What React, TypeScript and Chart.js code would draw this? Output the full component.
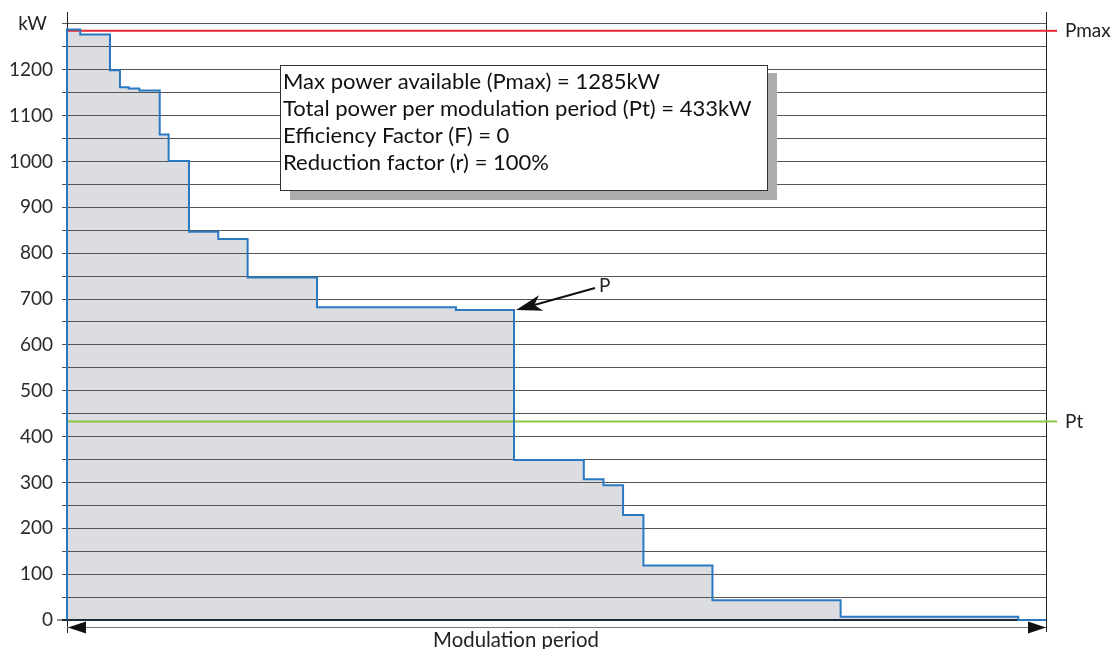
import React, { useEffect, useRef } from 'react';
import { Chart, registerables } from 'chart.js';

Chart.register(...registerables);

// ---- data ----
// start of each power step within the modulation period (period = 0..100)
const STEP_START = [0, 1.35, 4.39, 5.41, 6.3, 7.39, 9.47, 10.38, 12.46, 15.45, 18.45, 25.54, 39.73, 45.66, 52.79, 54.8, 56.8, 58.88, 65.93, 79.02, 97.16];
// power of each step, kW
const STEP_POWER = [1288, 1277, 1199, 1162, 1159, 1155, 1059, 1001, 847, 831, 747, 682, 676, 349, 307, 294, 229, 119, 43, 7, 0];
const PERIOD_END = 100;
const PMAX = 1285;
const PT = 433;
const Y_TICK_VALUES = [0, 50, 100, 150, 200, 250, 300, 350, 400, 450, 500, 550, 600, 650, 700, 750, 800, 850, 900, 950, 1000, 1050, 1100, 1150, 1200, 1250, 1300];
const Y_UNIT_TICK = 1300;
const Y_UNIT_LABEL = 'kW';
const INFO_LINES = [
  'Max power available (Pmax) = 1285kW',
  'Total power per modulation period (Pt) = 433kW',
  'Efficiency Factor (F) = 0',
  'Reduction factor (r) = 100%',
];
const P_STEP_INDEX = 12; // step whose end is marked "P"
const X_LABEL = 'Modulation period';

const FONT = "Lato, 'Open Sans', sans-serif";

function fitSize(ctx: CanvasRenderingContext2D, text: string, target: number): number {
  ctx.font = `100px ${FONT}`;
  const w = ctx.measureText(text).width;
  return (100 * target) / w;
}

function tickFontSize(): number {
  const c = document.createElement('canvas').getContext('2d');
  if (!c) return 20;
  return Math.round(fitSize(c, '1000', 44) * 10) / 10;
}

const overlay = {
  id: 'overlay',
  afterDraw(chart: any) {
    const { ctx, chartArea: a, scales } = chart;
    const xs = scales.x;
    const ys = scales.y;
    const tfs = fitSize(ctx, '1000', 44);
    ctx.save();
    const seg = (x1: number, y1: number, x2: number, y2: number) => {
      ctx.beginPath();
      ctx.moveTo(x1, y1);
      ctx.lineTo(x2, y2);
      ctx.stroke();
    };
    // frame extensions
    ctx.strokeStyle = '#222';
    ctx.lineWidth = 1;
    seg(a.left + 0.5, a.bottom, a.left + 0.5, a.bottom + 13);
    seg(a.right + 0.5, a.top, a.right + 0.5, a.bottom + 12);
    const y0 = ys.getPixelForValue(0);
    seg(a.left - 10, y0, a.left, y0);

    // unit label
    ctx.fillStyle = '#222';
    ctx.font = `${tfs}px ${FONT}`;
    ctx.textAlign = 'right';
    ctx.textBaseline = 'middle';
    ctx.fillText(Y_UNIT_LABEL, a.left - 20, ys.getPixelForValue(Y_UNIT_TICK));

    // reference line extensions + labels
    const refs: [number, string, string][] = [
      [PMAX, 'Pmax', '#e8262f'],
      [PT, 'Pt', '#8cc63e'],
    ];
    for (const [v, label, color] of refs) {
      const py = ys.getPixelForValue(v);
      ctx.strokeStyle = color;
      ctx.lineWidth = 2;
      seg(a.right, py, a.right + 11, py);
      ctx.fillStyle = '#222';
      ctx.font = `${tfs}px ${FONT}`;
      ctx.textAlign = 'left';
      ctx.textBaseline = 'middle';
      ctx.fillText(label, a.right + 19, py);
    }

    // bottom double arrow
    const ay = a.bottom + 7;
    ctx.strokeStyle = '#777';
    ctx.lineWidth = 1;
    seg(a.left, ay + 0.5, a.right, ay + 0.5);
    ctx.fillStyle = '#111';
    ctx.beginPath();
    ctx.moveTo(a.left + 1, ay + 0.5);
    ctx.lineTo(a.left + 19, ay - 5.5);
    ctx.lineTo(a.left + 19, ay + 6.5);
    ctx.closePath();
    ctx.fill();
    ctx.beginPath();
    ctx.moveTo(a.right, ay + 0.5);
    ctx.lineTo(a.right - 18, ay - 5.5);
    ctx.lineTo(a.right - 18, ay + 6.5);
    ctx.closePath();
    ctx.fill();
    const ls = fitSize(ctx, X_LABEL, 166);
    ctx.font = `${ls}px ${FONT}`;
    ctx.fillStyle = '#222';
    ctx.textAlign = 'center';
    ctx.textBaseline = 'middle';
    ctx.fillText(X_LABEL, 516, a.bottom + 20);

    // P arrow
    const tipX = xs.getPixelForValue(STEP_START[P_STEP_INDEX + 1]) + 2;
    const tipY = ys.getPixelForValue(STEP_POWER[P_STEP_INDEX]);
    const tailX = tipX + 79;
    const tailY = tipY - 22;
    const ang = Math.atan2(tailY - tipY, tailX - tipX);
    const cs = Math.cos(ang), sn = Math.sin(ang);
    ctx.strokeStyle = '#111';
    ctx.lineWidth = 2;
    seg(tipX + 18 * cs, tipY + 18 * sn, tailX, tailY);
    ctx.fillStyle = '#111';
    const L = 26, W = 8;
    const bx = tipX + L * cs;
    const by = tipY + L * sn;
    ctx.beginPath();
    ctx.moveTo(tipX, tipY);
    ctx.lineTo(bx - W * sn, by + W * cs);
    ctx.lineTo(tipX + 19 * cs, tipY + 19 * sn);
    ctx.lineTo(bx + W * sn, by - W * cs);
    ctx.closePath();
    ctx.fill();
    ctx.font = `${tfs}px ${FONT}`;
    ctx.fillStyle = '#222';
    ctx.textAlign = 'left';
    ctx.textBaseline = 'middle';
    ctx.fillText('P', tailX + 4, tailY - 2);

    // info box with shadow
    const bxL = 280, bxT = 65, bxW = 487, bxH = 125;
    ctx.fillStyle = '#abacae';
    ctx.fillRect(bxL + 10, bxT + 8, bxW, bxH + 2);
    ctx.fillStyle = '#fff';
    ctx.fillRect(bxL, bxT, bxW, bxH);
    ctx.strokeStyle = '#333';
    ctx.lineWidth = 1;
    ctx.strokeRect(bxL + 0.5, bxT + 0.5, bxW, bxH);
    const fs = fitSize(ctx, INFO_LINES[1], 469);
    ctx.font = `${fs}px ${FONT}`;
    ctx.fillStyle = '#111';
    ctx.textAlign = 'left';
    ctx.textBaseline = 'middle';
    INFO_LINES.forEach((t, i) => ctx.fillText(t, bxL + 3, bxT + 17 + i * 26.9));
    ctx.restore();
  },
};

export default function App() {
  const ref = useRef<HTMLCanvasElement | null>(null);
  useEffect(() => {
    if (!ref.current) return;
    const tickSize = tickFontSize();
    const stepData = [{ x: 0, y: 0 }, ...STEP_START.map((s, i) => ({ x: s, y: STEP_POWER[i] })), { x: PERIOD_END, y: 0 }];
    const chart = new Chart(ref.current, {
      type: 'line',
      data: {
        datasets: [
          {
            label: 'Power',
            data: stepData,
            stepped: 'before',
            borderColor: '#2b78c2',
            borderWidth: 2,
            backgroundColor: '#dcdde0',
            fill: 'origin',
            pointRadius: 0,
            clip: false as any,
          },
          {
            label: 'Pmax',
            data: [{ x: 0, y: PMAX }, { x: PERIOD_END, y: PMAX }],
            borderColor: '#e8262f',
            borderWidth: 2,
            pointRadius: 0,
            fill: false,
          },
          {
            label: 'Pt',
            data: [{ x: 0, y: PT }, { x: PERIOD_END, y: PT }],
            borderColor: '#8cc63e',
            borderWidth: 2,
            pointRadius: 0,
            fill: false,
          },
        ],
      },
      options: {
        responsive: false,
        animation: false,
        layout: { padding: { top: 12, bottom: 29, right: 73, left: 0 }, autoPadding: false } as any,
        plugins: {
          legend: { display: false },
          tooltip: { enabled: false },
          filler: { propagate: false, drawTime: 'beforeDraw' } as any,
        },
        scales: {
          x: { type: 'linear', min: 0, max: PERIOD_END, display: false },
          y: {
            type: 'linear',
            min: 0,
            max: 1326,
            afterBuildTicks: (scale: any) => {
              scale.ticks = Y_TICK_VALUES.map((v) => ({ value: v }));
            },
            afterFit: (scale: any) => {
              scale.width = 67;
              scale.paddingTop = 0;
              scale.paddingBottom = 0;
            },
            ticks: {
              autoSkip: false,
              padding: 9,
              color: '#2a2a2a',
              font: { family: FONT, size: tickSize },
              callback: (v: any) => (v === Y_UNIT_TICK ? '' : v % 100 === 0 ? String(v) : ''),
            },
            grid: {
              color: (c: any) => (c.tick && c.tick.value === 0 ? '#1d2b3a' : '#555'),
              lineWidth: (c: any) => (c.tick && c.tick.value === 0 ? 2 : 1),
              tickLength: 5,
            },
            border: { display: true, color: '#222', width: 1 },
          },
        },
      },
      plugins: [overlay],
    });
    return () => chart.destroy();
  }, []);
  return (
    <div style={{ position: 'fixed', left: 0, top: 0, width: 1119, height: 649, background: '#fff' }}>
      <canvas ref={ref} width={1119} height={649} style={{ display: 'block' }} />
    </div>
  );
}
